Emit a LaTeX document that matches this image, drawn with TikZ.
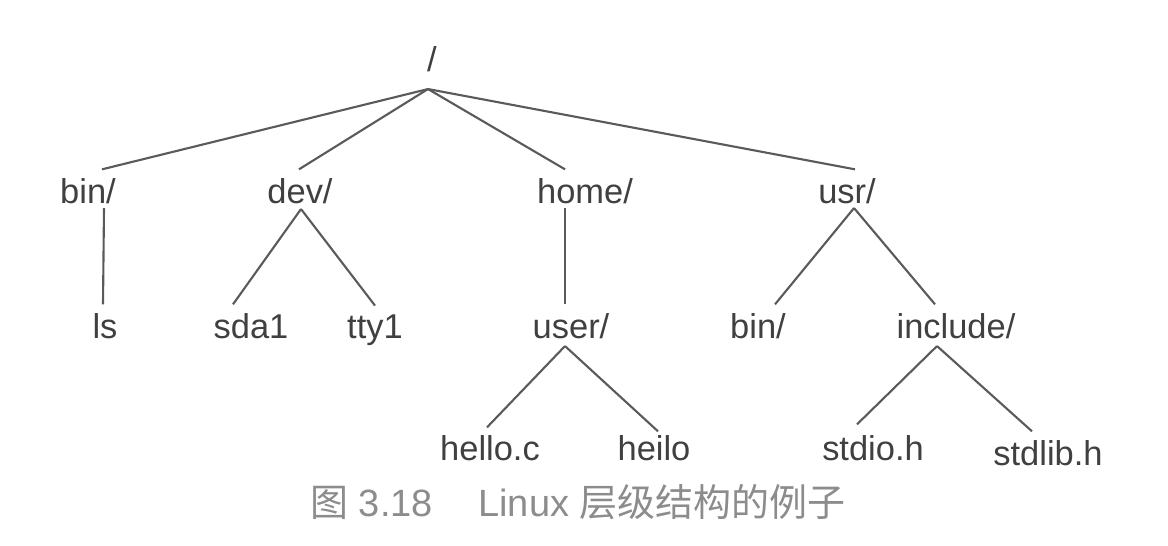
\documentclass[tikz,border=0pt]{standalone}
\usepackage{fontspec}
\setmainfont{Liberation Sans}
\newfontfamily\cjk{Noto Sans CJK SC}
\usetikzlibrary{calc}
\definecolor{txtgray}{HTML}{404040}
\definecolor{linegray}{HTML}{5A5A5A}
\definecolor{capgray}{HTML}{8C8C8C}

\begin{document}
\begin{tikzpicture}[x=0.01cm,y=-0.01cm,
  every node/.style={inner sep=0pt,anchor=base,text=txtgray,
    font=\fontsize{9.8}{12}\selectfont},
  branch/.style={draw=linegray,line width=0.6pt}]
\useasboundingbox (0,0) rectangle (1168,545);
\node (root) at (432,71) {/};
\node (bin) at (88,203) {bin/};
\node (dev) at (300,203) {dev/};
\node (home) at (585,203) {home/};
\node (usr) at (847,203) {usr/};
\node (ls) at (105,338) {ls};
\node (sda) at (251,338) {sda1};
\node (tty) at (375,338) {tty1};
\node (user) at (571,338) {user/};
\node (ubin) at (758,338) {bin/};
\node (incl) at (956,338) {include/};
\node (helloc) at (490,460) {hello.c};
\node (heilo) at (654,460) {heilo};
\node (stdio) at (873,460) {stdio.h};
\node (stdlib) at (1048,465) {stdlib.h};
\node[text=capgray,font=\fontsize{10.8}{13}\selectfont] (cap) at (578,516)
  {{\cjk 图}~3.18\hspace{1.2em}Linux~{\cjk 层级结构的例子}};
\draw[branch] ($(root.south)+(-4,17)$)--($(bin.north)+(14,-8)$);
\draw[branch] ($(root.south)+(-4,17)$)--($(dev.north)+(-1,-8)$);
\draw[branch] ($(root.south)+(-4,17)$)--($(home.north)+(-20,-8)$);
\draw[branch] ($(root.south)+(-4,17)$)--($(usr.north)+(8,-8)$);
\draw[branch] ($(bin.south)+(16,4)$)--($(ls.north)+(-2,-8)$);
\draw[branch] ($(dev.south)+(1,5)$)--($(sda.north)+(-18,-8)$);
\draw[branch] ($(dev.south)+(1,5)$)--($(tty.north)+(0,-8)$);
\draw[branch] ($(home.south)+(-20,4)$)--($(user.north)+(-6,-8)$);
\draw[branch] ($(usr.south)+(7,4)$)--($(ubin.north)+(17,-8)$);
\draw[branch] ($(usr.south)+(7,4)$)--($(incl.north)+(-21,-8)$);
\draw[branch] ($(user.south)+(-6,7)$)--($(helloc.north)+(-3,-7)$);
\draw[branch] ($(user.south)+(-6,7)$)--($(heilo.north)+(4,-3)$);
\draw[branch] ($(incl.south)+(-19,7)$)--($(stdio.north)+(-16,-10)$);
\draw[branch] ($(incl.south)+(-19,7)$)--($(stdlib.north)+(-16,-8)$);
\end{tikzpicture}
\end{document}
